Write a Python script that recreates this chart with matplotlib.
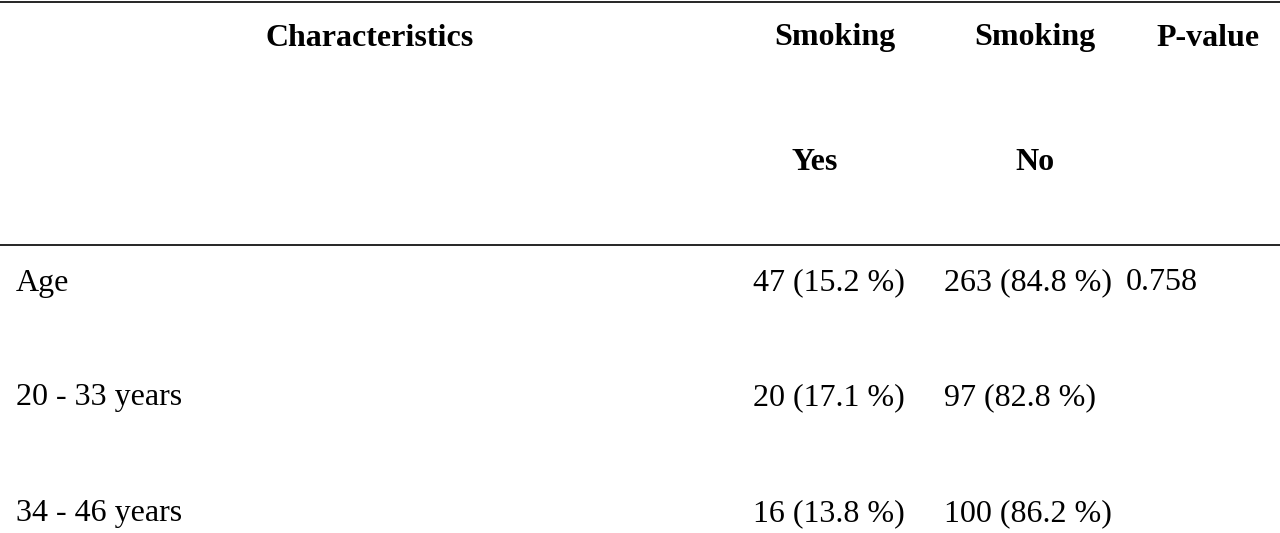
import matplotlib
matplotlib.use("Agg")
import matplotlib.pyplot as plt

headers = ["Characteristics", "Smoking", "Smoking", "P-value"]
subheaders = ["", "Yes", "No", ""]
labels = ["Age", "20 - 33 years", "34 - 46 years"]
yes_vals = ["47 (15.2 %)", "20 (17.1 %)", "16 (13.8 %)"]
no_vals = ["263 (84.8 %)", "97 (82.8 %)", "100 (86.2 %)"]
pvals = ["0.758", "", ""]

W, H = 1280, 533
fig = plt.figure(figsize=(12.8, 5.33), dpi=100)
ax = fig.add_axes([0, 0, 1, 1])
ax.set_xlim(0, W); ax.set_ylim(H, 0); ax.axis("off")
font = dict(family=["Liberation Serif", "DejaVu Serif"], fontsize=23, color="black")

ax.plot([0, W], [2, 2], color="black", lw=1.2)
ax.plot([0, W], [245, 245], color="black", lw=1.2)

hx = [370, 835, 1035, 1208]
for x, t in zip(hx, headers):
    ax.text(x, 38, t, ha="center", va="center", fontweight="bold", **font)
sx = [0, 815, 1035, 0]
for x, t in zip(sx, subheaders):
    if t:
        ax.text(x, 163, t, ha="center", va="center", fontweight="bold", **font)

ys = [283, 398, 514]
for y, a, b, c, d in zip(ys, labels, yes_vals, no_vals, pvals):
    ax.text(16, y, a, ha="left", va="center", **font)
    ax.text(753, y, b, ha="left", va="center", **font)
    ax.text(944, y, c, ha="left", va="center", **font)
    if d:
        ax.text(1126, y, d, ha="left", va="center", **font)

fig.savefig("out.png", dpi=100)
